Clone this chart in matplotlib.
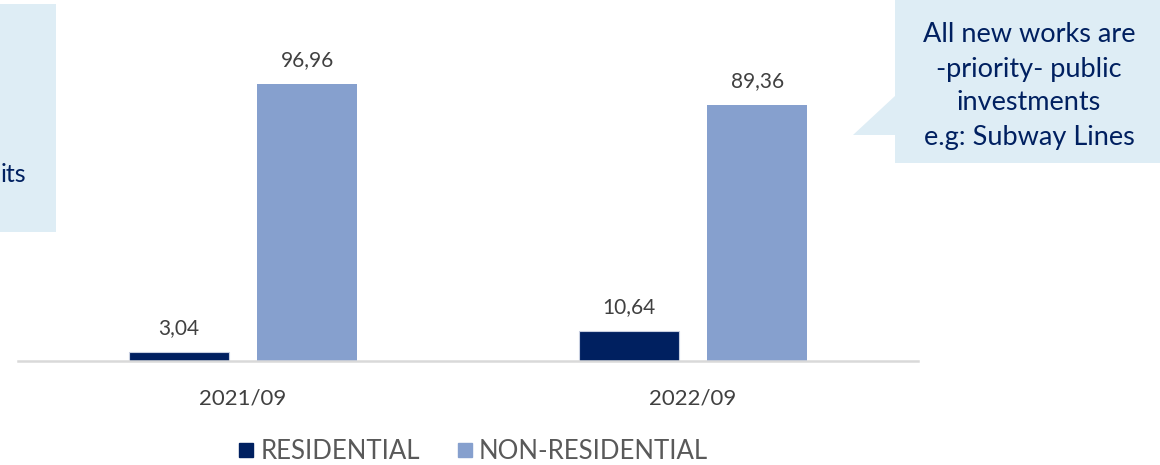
import matplotlib.pyplot as plt
from matplotlib.patches import Polygon, Rectangle
from matplotlib.lines import Line2D

plt.rcParams["font.family"] = ["Lato", "DejaVu Sans"]

periods = ["2021/09", "2022/09"]
residential = [3.04, 10.64]
non_residential = [96.96, 89.36]
value_labels_res = ["3,04", "10,64"]
value_labels_non = ["96,96", "89,36"]

navy = "#002060"
lightblue = "#86a0ce"
boxblue = "#deedf5"

W, H = 1160, 465
fig = plt.figure(figsize=(W / 100, H / 100), dpi=100)


def fx(px):
    return px / W


def fy(py):
    return 1 - py / H


ax = fig.add_axes([fx(18), fy(361), fx(918) - fx(18), fy(0) - fy(361)])

x = range(len(periods))
w = 0.222
off = 0.143
b1 = ax.bar([i - off for i in x], residential, w, color=navy, edgecolor="#c8cfe0", linewidth=0.8)
b2 = ax.bar([i + off for i in x], non_residential, w, color=lightblue)

for bar, lab in zip(b1, value_labels_res):
    ax.annotate(lab, xy=(bar.get_x() + bar.get_width() / 2, bar.get_height()),
                xytext=(0, 10), textcoords="offset points", ha="center", va="bottom",
                fontsize=15, color="#404040")
for bar, lab in zip(b2, value_labels_non):
    ax.annotate(lab, xy=(bar.get_x() + bar.get_width() / 2, bar.get_height()),
                xytext=(0, 10), textcoords="offset points", ha="center", va="bottom",
                fontsize=15, color="#404040")

ax.set_xlim(-0.5, 1.5)
ax.set_ylim(0, 361 / 2.86)
ax.set_xticks(list(x))
ax.set_xticklabels(periods, fontsize=16, color="#404040")
ax.tick_params(axis="x", length=0, pad=20)
ax.set_yticks([])
for s in ["top", "right", "left"]:
    ax.spines[s].set_visible(False)
ax.spines["bottom"].set_color("#d9d9d9")
ax.spines["bottom"].set_linewidth(1.8)

# legend
handles = [
    Line2D([], [], marker="s", linestyle="", markersize=10, color=navy),
    Line2D([], [], marker="s", linestyle="", markersize=10, color=lightblue),
]
leg = fig.legend(handles, ["RESIDENTIAL", "NON-RESIDENTIAL"], loc="center",
                 bbox_to_anchor=(fx(474), fy(451)), ncol=2, frameon=False,
                 fontsize=18.5, handlelength=0.5, handletextpad=0.3, columnspacing=1.5)
for t in leg.get_texts():
    t.set_color("#595959")

# left callout (cut off)
fig.patches.append(Rectangle((fx(0), fy(232)), fx(56), fy(4) - fy(232),
                             transform=fig.transFigure, facecolor=boxblue,
                             edgecolor="none", zorder=0))
fig.text(fx(26), fy(182), "its", ha="right", va="baseline", fontsize=18, color=navy)

# right callout
fig.patches.append(Polygon([(fx(895), fy(0)), (fx(1160), fy(0)), (fx(1160), fy(163)),
                            (fx(895), fy(163)), (fx(895), fy(135)), (fx(853), fy(135)),
                            (fx(895), fy(96))],
                           closed=True, transform=fig.transFigure, facecolor=boxblue,
                           edgecolor="none", zorder=0))
fig.text(fx(1029), fy(86), "All new works are\n-priority- public\ninvestments\ne.g: Subway Lines",
         ha="center", va="center", fontsize=19.5, color=navy, linespacing=1.45,
         multialignment="center")

fig.savefig("out.png", dpi=100)
